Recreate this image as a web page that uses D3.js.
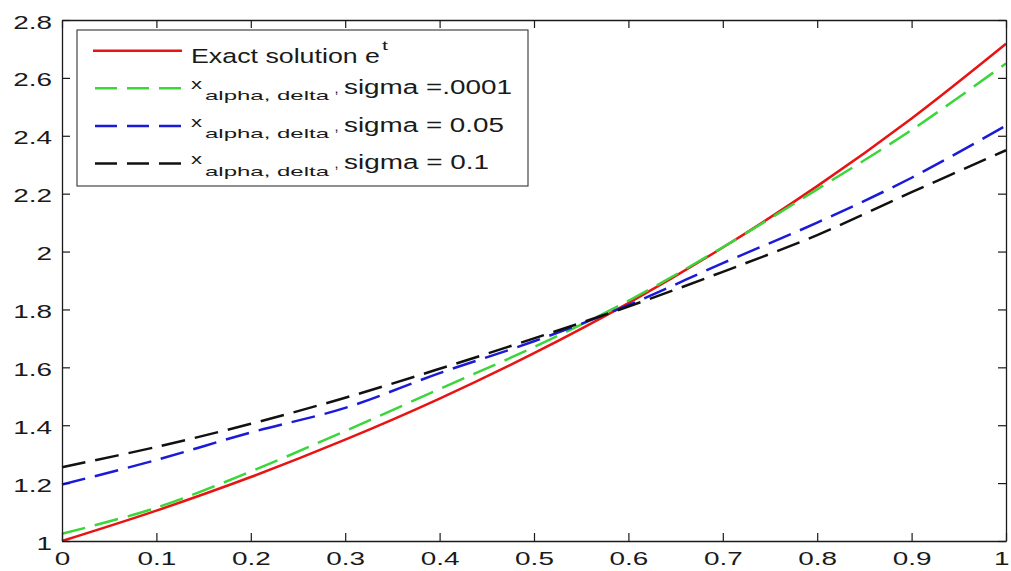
<!DOCTYPE html>
<html>
<head>
<meta charset="utf-8">
<script src="https://cdn.jsdelivr.net/npm/d3@7"></script>
<style>
  html, body { margin: 0; padding: 0; background: #ffffff; }
  svg { display: block; }
  text { font-family: "Liberation Sans", Arial, sans-serif; fill: #1a1a1a; }
</style>
</head>
<body>
<svg id="chart" width="1011" height="571"></svg>
<script>
// Sample times
const tValues = [0, 0.1, 0.2, 0.3, 0.4, 0.5, 0.6, 0.7, 0.8, 0.9, 1.0];
// Exact solution e^t
const exactValues = [1.000, 1.105, 1.221, 1.350, 1.492, 1.649, 1.822, 2.014, 2.226, 2.460, 2.718];
// Regularized approximations for three noise levels
const sigma0001Values = [1.025, 1.115, 1.240, 1.380, 1.525, 1.670, 1.830, 2.015, 2.215, 2.420, 2.650];
const sigma005Values  = [1.195, 1.280, 1.375, 1.460, 1.580, 1.690, 1.815, 1.960, 2.100, 2.255, 2.435];
const sigma01Values   = [1.255, 1.325, 1.405, 1.495, 1.595, 1.700, 1.810, 1.930, 2.057, 2.205, 2.350];

const xTickValues = [0, 0.1, 0.2, 0.3, 0.4, 0.5, 0.6, 0.7, 0.8, 0.9, 1];
const xTickLabels = ["0", "0.1", "0.2", "0.3", "0.4", "0.5", "0.6", "0.7", "0.8", "0.9", "1"];
const yTickValues = [1, 1.2, 1.4, 1.6, 1.8, 2, 2.2, 2.4, 2.6, 2.8];
const yTickLabels = ["1", "1.2", "1.4", "1.6", "1.8", "2", "2.2", "2.4", "2.6", "2.8"];

const sigmaLabels = ["sigma =.0001", "sigma = 0.05", "sigma = 0.1"];

const svg = d3.select("#chart");
const plotLeft = 62, plotRight = 1006, plotTop = 20, plotBottom = 541;
const stretch = 1.47;
const axisColor = "#1a1a1a";

const x = d3.scaleLinear().domain([0, 1]).range([plotLeft, plotRight]);
const y = d3.scaleLinear().domain([1, 2.8]).range([plotBottom, plotTop]);

svg.append("rect").attr("width", 1011).attr("height", 571).attr("fill", "#ffffff");

// Curves
const series = [
  { values: exactValues,     color: "#e81414", dash: null },
  { values: sigma0001Values, color: "#3ad63a", dash: "24,10" },
  { values: sigma005Values,  color: "#1a1ad8", dash: "24,10" },
  { values: sigma01Values,   color: "#111111", dash: "24,10" }
];

const line = d3.line()
  .x((d, i) => x(tValues[i]))
  .y(d => y(d))
  .curve(d3.curveCatmullRom);

series.forEach(s => {
  svg.append("path")
    .datum(s.values)
    .attr("d", line)
    .attr("fill", "none")
    .attr("stroke", s.color)
    .attr("stroke-width", 2.5)
    .attr("stroke-dasharray", s.dash);
});

// Axes (ticks pointing inward, box on all four sides)
const fmtX = d => xTickLabels[xTickValues.indexOf(d)];
const fmtY = d => yTickLabels[yTickValues.indexOf(d)];

const gBottom = svg.append("g").attr("transform", `translate(0,${plotBottom})`)
  .call(d3.axisBottom(x).tickValues(xTickValues).tickFormat(fmtX).tickSizeInner(-8).tickSizeOuter(0));
gBottom.selectAll(".tick text")
  .attr("y", 24).attr("dy", null)
  .attr("font-size", 19)
  .attr("transform", `scale(${stretch},1)`);
// keep the last label inside the page edge
gBottom.selectAll(".tick text").filter(d => d === 1)
  .attr("text-anchor", "end").attr("x", 3 / stretch);

const gLeft = svg.append("g").attr("transform", `translate(${plotLeft},0)`)
  .call(d3.axisLeft(y).tickValues(yTickValues).tickFormat(fmtY).tickSizeInner(-8).tickSizeOuter(0));
gLeft.selectAll(".tick text")
  .attr("x", -10 / stretch).attr("y", 8).attr("dy", null)
  .attr("font-size", 19)
  .attr("transform", `scale(${stretch},1)`);

svg.append("g").attr("transform", `translate(0,${plotTop})`)
  .call(d3.axisTop(x).tickValues(xTickValues).tickFormat("").tickSizeInner(-8).tickSizeOuter(0));
svg.append("g").attr("transform", `translate(${plotRight},0)`)
  .call(d3.axisRight(y).tickValues(yTickValues).tickFormat("").tickSizeInner(-8).tickSizeOuter(0));

svg.selectAll(".domain").attr("stroke", axisColor).attr("stroke-width", 1.3);
svg.selectAll(".tick line").attr("stroke", axisColor).attr("stroke-width", 1.2);
svg.selectAll(".tick text").attr("fill", axisColor).attr("font-family", "Liberation Sans, Arial, sans-serif");

// Legend
const legend = svg.append("g");
legend.append("rect")
  .attr("x", 77).attr("y", 30).attr("width", 451).attr("height", 156)
  .attr("fill", "#ffffff").attr("stroke", "#333333").attr("stroke-width", 1.1);

const lineY = [50.7, 88.3, 126, 163.5];
series.forEach((s, i) => {
  legend.append("line")
    .attr("x1", i === 0 ? 93 : 95).attr("x2", i === 0 ? 182 : 181)
    .attr("y1", lineY[i]).attr("y2", lineY[i])
    .attr("stroke", s.color).attr("stroke-width", 2.5)
    .attr("stroke-dasharray", s.dash ? "22,10" : null);
});

function label(txt, px, py, size, len) {
  return legend.append("text")
    .attr("x", px).attr("y", py)
    .attr("font-size", size)
    .attr("textLength", len)
    .attr("lengthAdjust", "spacingAndGlyphs")
    .text(txt);
}

label("Exact solution e", 191, 62.5, 20.5, 189);
label("t", 382, 50, 13, 6);

const sigmaLen = [168, 160, 145];
sigmaLabels.forEach((s, i) => {
  const b = lineY[i + 1] + 5.5;
  label("x", 191, b - 5, 14.5, 11);
  label("alpha, delta", 205, b + 6.5, 13.5, 124);
  label(",", 334.5, b - 1, 15, 4);
  label(s, 344, b, 19.5, sigmaLen[i]);
});
</script>
</body>
</html>
